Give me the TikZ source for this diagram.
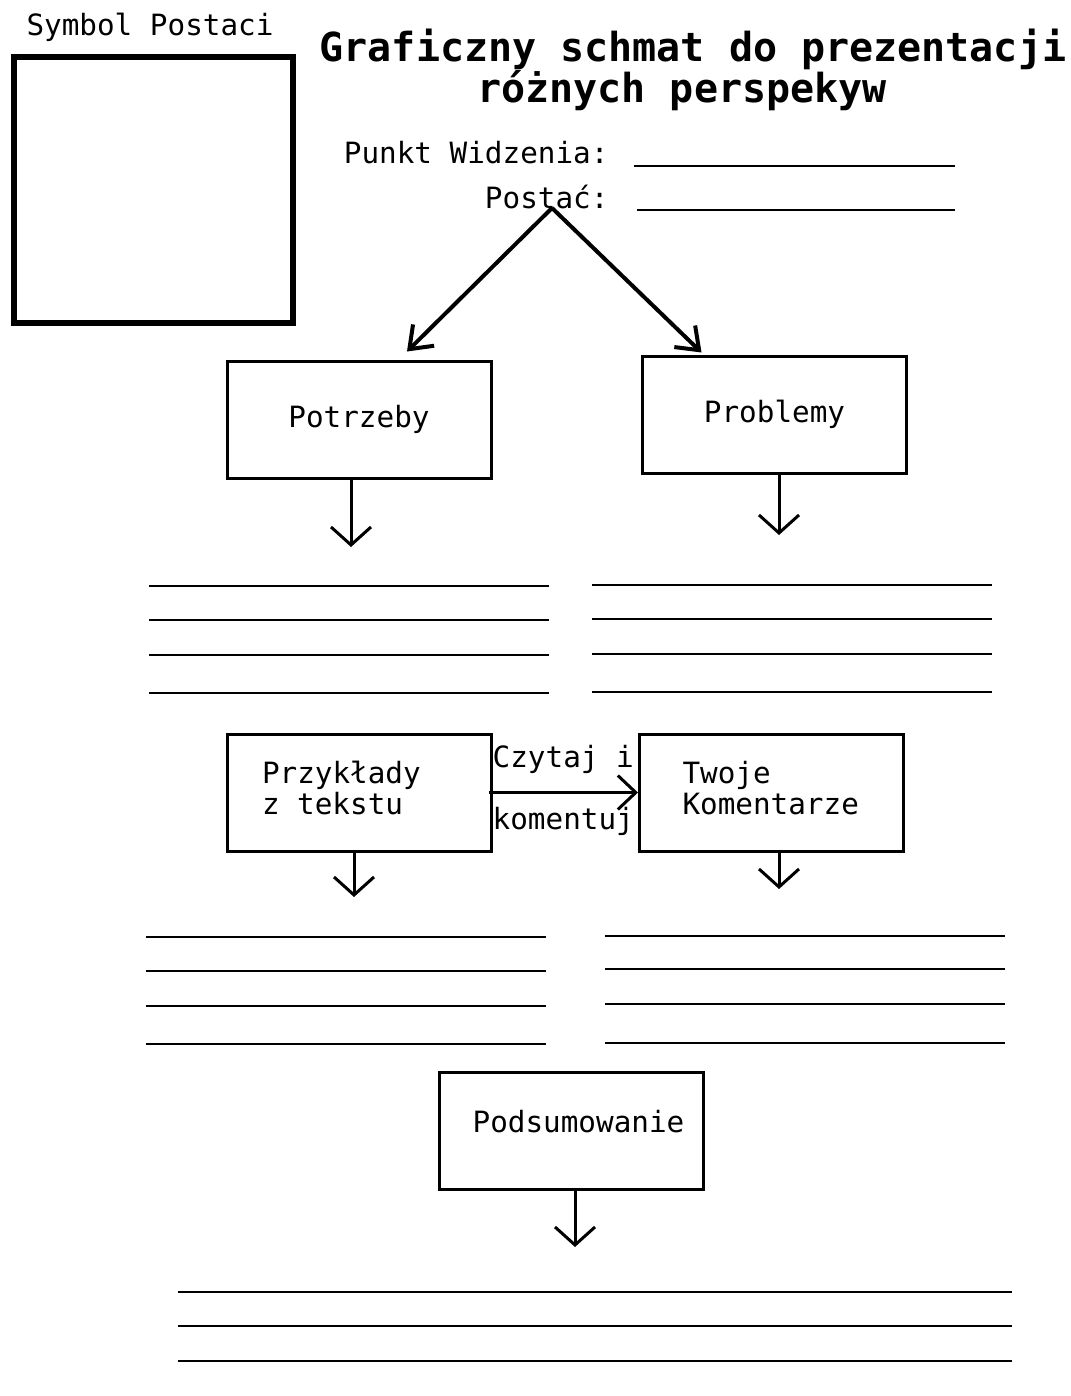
\documentclass[tikz,border=0pt]{standalone}
\usepackage{fontspec}
\setmonofont{DejaVu Sans Mono}[WordSpace={1,0,0}]
\usetikzlibrary{arrows.meta,positioning}
\newcommand{\txtfont}{\ttfamily\fontsize{29.3}{31}\selectfont}
\begin{document}
\begin{tikzpicture}[x=1pt,y=-1pt,
  every node/.style={font=\txtfont},
  box/.style={draw,line width=3pt,minimum width=264pt,minimum height=117pt,inner sep=0pt},
  leftbox/.style={box,text width=188pt,align=left},
  fillline/.style={line width=1.5pt},
  downarrow/.style={line width=3pt,-{Straight Barb[length=18pt,width=40pt]}},
  slantarrow/.style={line width=4pt,-{Straight Barb[length=20pt,width=30pt]}},
  sidearrow/.style={line width=3pt,-{Straight Barb[length=18pt,width=34pt]}}]
\useasboundingbox (0,0) rectangle (1070,1396);
% header
\node (symbol-label) at (150,27) {Symbol Postaci};
\node[draw,line width=6pt,minimum width=279pt,minimum height=266pt] (symbol) at (153.5,190) {};
\node[align=center,font=\ttfamily\bfseries\fontsize{40}{36}\selectfont] (title) at (693,70)
  {Graficzny schmat do prezentacji\\różnych perspekyw\hspace*{22pt}};
\node[anchor=east] (punkt) at (612,153) {Punkt Widzenia:};
\node[anchor=east] (postac) at (612,197) {Postać:};
\draw[fillline] (634,166) -- (955,166);
\draw[fillline] (637,210) -- (955,210);
\coordinate (root) at (552,208);
% boxes
\node[box] (potrzeby) at (359,419.5) {\raisebox{2pt}{Potrzeby}};
\node[box] (problemy) at (774.5,414.5) {\raisebox{4pt}{Problemy}};
\node[leftbox] (przyklady) at (359,792.5) {\hspace*{-3pt}\raisebox{8pt}{\begin{tabular}{@{}l@{}}Przykłady\\z\hspace{0.6em}tekstu\end{tabular}}};
\node[leftbox] (twoje) at (771.5,792.5) {\hspace*{5pt}\raisebox{10pt}{\begin{tabular}{@{}l@{}}Twoje\\Komentarze\end{tabular}}};
\node[box] (podsum) at (571.5,1130.5) {\hspace*{14pt}\raisebox{18pt}{Podsumowanie}};
% connectors
\draw[slantarrow] (root) -- ([shift={(48,-8)}]potrzeby.north);
\draw[slantarrow] (root) -- ([shift={(-73,-2)}]problemy.north);
\coordinate (potrzeby-end) at (351,547);
\coordinate (problemy-end) at (779,535);
\coordinate (przyklady-end) at (354,897);
\coordinate (twoje-end) at (779,889);
\coordinate (podsum-end) at (575,1247);
\draw[downarrow] (potrzeby.south -| potrzeby-end) -- (potrzeby-end);
\draw[downarrow] (problemy.south -| problemy-end) -- (problemy-end);
\draw[downarrow] (przyklady.south -| przyklady-end) -- (przyklady-end);
\draw[downarrow] (twoje.south -| twoje-end) -- (twoje-end);
\draw[downarrow] (podsum.south -| podsum-end) -- (podsum-end);
\draw[sidearrow] ([xshift=-4pt]przyklady.east) -- (twoje.west)
  node[midway,above=14pt] (czytaj) {Czytaj i}
  node[midway,below=10pt] (komentuj) {komentuj};
% lines to fill in
\foreach \y in {586,620,655,693} \draw[fillline] (149,\y) -- (549,\y);
\foreach \y in {585,619,654,692} \draw[fillline] (592,\y) -- (992,\y);
\foreach \y in {937,971,1006,1044} \draw[fillline] (146,\y) -- (546,\y);
\foreach \y in {936,969,1004,1043} \draw[fillline] (605,\y) -- (1005,\y);
\foreach \y in {1292,1326,1361} \draw[fillline] (178,\y) -- (1012,\y);
\end{tikzpicture}
\end{document}
